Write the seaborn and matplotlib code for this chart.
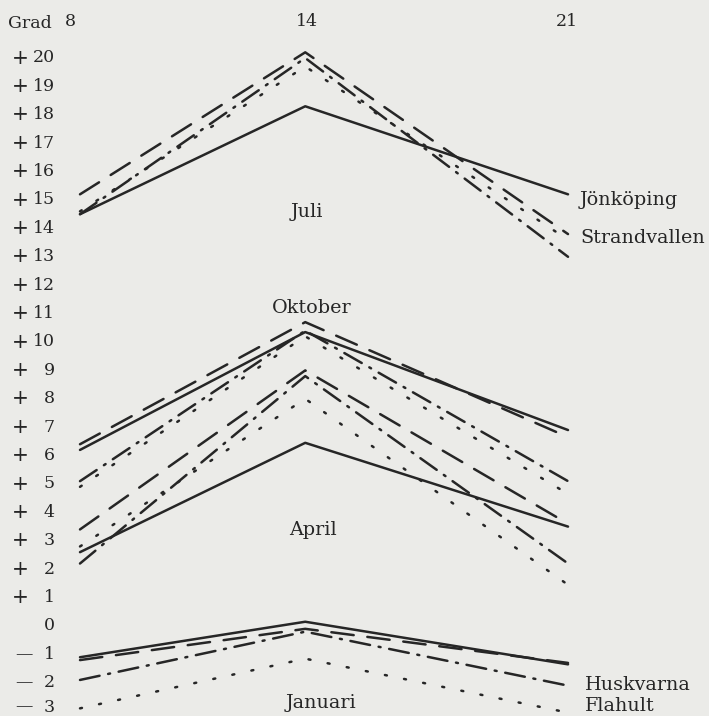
import matplotlib
matplotlib.use("Agg")
import matplotlib.pyplot as plt
import seaborn as sns
import pandas as pd

# ---- data ----
hours = [8, 14, 21]
hour_labels = ["8", "14", "21"]
stations = ["Jönköping", "Strandvallen", "Huskvarna", "Flahult"]
months = ["Juli", "Oktober", "April", "Januari"]

juli_jonkoping = [14.5, 18.3, 15.2]
juli_strandvallen = [15.2, 20.2, 13.8]
juli_huskvarna = [14.5, 20.0, 13.0]
juli_flahult = [14.6, 19.7, 13.6]

oktober_jonkoping = [6.2, 10.35, 6.9]
oktober_strandvallen = [6.4, 10.7, 6.65]
oktober_huskvarna = [5.1, 10.4, 5.1]
oktober_flahult = [4.9, 10.2, 4.65]

april_jonkoping = [2.6, 6.45, 3.5]
april_strandvallen = [3.4, 9.0, 3.6]
april_huskvarna = [2.2, 8.8, 2.2]
april_flahult = [2.8, 8.0, 1.45]

januari_jonkoping = [-1.1, 0.15, -1.35]
januari_strandvallen = [-1.2, -0.1, -1.3]
januari_huskvarna = [-1.9, -0.2, -2.1]
januari_flahult = [-2.9, -1.15, -3.05]

y_ticks = list(range(20, -4, -1))

series = {
    "Juli": [juli_jonkoping, juli_strandvallen, juli_huskvarna, juli_flahult],
    "Oktober": [oktober_jonkoping, oktober_strandvallen, oktober_huskvarna, oktober_flahult],
    "April": [april_jonkoping, april_strandvallen, april_huskvarna, april_flahult],
    "Januari": [januari_jonkoping, januari_strandvallen, januari_huskvarna, januari_flahult],
}

rows = []
for m in months:
    for st, vals in zip(stations, series[m]):
        for h, v in zip(hours, vals):
            rows.append({"month": m, "station": st, "hour": h, "temp": v, "unit": m + st})
df = pd.DataFrame(rows)

# ---- figure ----
sns.set_style("white")
plt.rcParams["font.family"] = ["DejaVu Serif", "DejaVu Sans"]
plt.rcParams["lines.dash_capstyle"] = "round"
plt.rcParams["lines.solid_capstyle"] = "round"

bg = "#ebebe8"
ink = "#262626"
fig = plt.figure(figsize=(7.09, 7.16), dpi=100, facecolor=bg)
ax = fig.add_axes([0, 0, 1, 1], facecolor=bg)

px_per_hr = 37.54
px_per_deg = 28.4
x0 = 8 - 80 / px_per_hr
x1 = 8 + (709 - 80) / px_per_hr
ytop = 626 / px_per_deg
ybot = (626 - 716) / px_per_deg


def hx(px):
    return 8 + (px - 80) / px_per_hr


def vy(py):
    return (626 - py) / px_per_deg


dashes = {
    "Jönköping": "",
    "Strandvallen": (9, 5.5),
    "Huskvarna": (8, 3.5, 0.8, 3.5),
    "Flahult": (0.8, 7),
}

sns.lineplot(data=df, x="hour", y="temp", units="unit", style="station",
             estimator=None, dashes=dashes, color=ink, linewidth=1.8,
             sort=False, legend=False, ax=ax)

ax.set_xlim(x0, x1)
ax.set_ylim(ybot, ytop)
ax.axis("off")

fs = 12.5
fw = 13.8
# y tick labels
for v in y_ticks:
    y = v if v > -3 else vy(707)
    if v > 0:
        ax.text(hx(20), y, "+", ha="center", va="center", fontsize=fs + 2, color=ink)
        ax.text(hx(55), y, str(v), ha="right", va="center", fontsize=fs, color=ink)
    elif v == 0:
        ax.text(hx(55), y, "0", ha="right", va="center", fontsize=fs, color=ink)
    else:
        ax.text(hx(24), y, "—", ha="center", va="center", fontsize=fs, color=ink)
        ax.text(hx(55), y, str(-v), ha="right", va="center", fontsize=fs, color=ink)

# top labels
ax.text(hx(8), vy(23), "Grad", ha="left", va="center", fontsize=fs, color=ink)
for h, lab in zip(hours, hour_labels):
    xpx = {8: 70, 14: 307, 21: 567}[h]
    ax.text(hx(xpx), vy(22), lab, ha="center", va="center", fontsize=fs, color=ink)

# month labels
ax.text(hx(307), vy(212), "Juli", ha="center", va="center", fontsize=fw, color=ink)
ax.text(hx(312), vy(308), "Oktober", ha="center", va="center", fontsize=fw, color=ink)
ax.text(hx(313), vy(530), "April", ha="center", va="center", fontsize=fw, color=ink)
ax.text(hx(321), vy(703), "Januari", ha="center", va="center", fontsize=fw, color=ink)

# station labels
ax.text(hx(580), vy(200), "Jönköping", ha="left", va="center", fontsize=fw, color=ink)
ax.text(hx(580), vy(238), "Strandvallen", ha="left", va="center", fontsize=fw, color=ink)
ax.text(hx(585), vy(685), "Huskvarna", ha="left", va="center", fontsize=fw, color=ink)
ax.text(hx(585), vy(706), "Flahult", ha="left", va="center", fontsize=fw, color=ink)

fig.savefig("out.png", dpi=100, facecolor=bg)
